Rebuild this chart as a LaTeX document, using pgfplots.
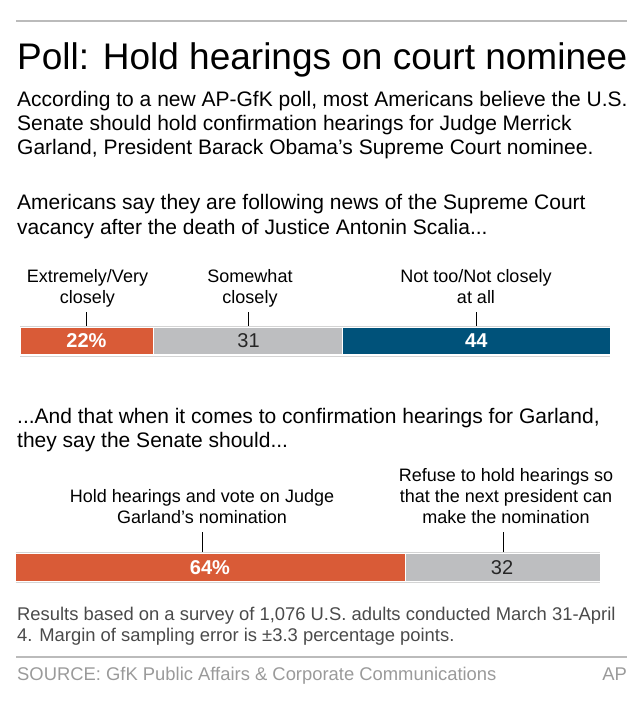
\documentclass[border=0pt]{standalone}
\usepackage{pgfplots}
\pgfplotsset{compat=1.18}
\usepackage{fontspec}
\setmainfont{Liberation Sans}

\definecolor{apOrange}{HTML}{D95B37}
\definecolor{apGray}{HTML}{BDBEC0}
\definecolor{apBlue}{HTML}{00527A}
\definecolor{ruleGray}{HTML}{BBBBBB}
\definecolor{edgeGray}{HTML}{D4D4D4}
\definecolor{noteGray}{HTML}{4A4A4A}
\definecolor{srcGray}{HTML}{9A9A9A}

\newcommand{\titlefont}{\fontsize{37bp}{40bp}\selectfont}
\newcommand{\bodyfont}{\fontsize{21bp}{24bp}\selectfont}
\newcommand{\labfont}{\fontsize{18bp}{21bp}\selectfont}
\newcommand{\valfont}{\fontsize{20bp}{22bp}\selectfont}
\newcommand{\notefont}{\fontsize{18.4bp}{21bp}\selectfont}

\begin{document}
\begin{tikzpicture}
\begin{scope}[x=1bp, y=-1bp]
  \useasboundingbox (0,0) rectangle (640,725);
  \draw[ruleGray, line width=1.5bp] (16,21) -- (627,21);
  \node[anchor=base west, inner sep=0] at (17,70) {\titlefont Poll: Hold hearings on court nominee};
  \node[anchor=base west, inner sep=0] at (17,106.7) {\bodyfont According to a new AP-GfK poll, most Americans believe the U.S.};
  \node[anchor=base west, inner sep=0] at (17,130.7) {\bodyfont Senate should hold confirmation hearings for Judge Merrick};
  \node[anchor=base west, inner sep=0] at (17,154.3) {\bodyfont Garland, President Barack Obama’s Supreme Court nominee.};
  \node[anchor=base west, inner sep=0] at (17,209.3) {\bodyfont Americans say they are following news of the Supreme Court};
  \node[anchor=base west, inner sep=0] at (17,234) {\bodyfont vacancy after the death of Justice Antonin Scalia...};

  % labels above first bar
  \node[anchor=base, inner sep=0] at (87.5,282.7) {\labfont Extremely/Very};
  \node[anchor=base, inner sep=0] at (87.5,303.3) {\labfont closely};
  \node[anchor=base, inner sep=0] at (250,282.7) {\labfont Somewhat};
  \node[anchor=base, inner sep=0] at (250,303.3) {\labfont closely};
  \node[anchor=base, inner sep=0] at (476,282.7) {\labfont Not too/Not closely};
  \node[anchor=base, inner sep=0] at (476,303.3) {\labfont at all};

  \node[anchor=base west, inner sep=0] at (17,423) {\bodyfont ...And that when it comes to confirmation hearings for Garland,};
  \node[anchor=base west, inner sep=0] at (17,447.5) {\bodyfont they say the Senate should...};

  % labels above second bar
  \node[anchor=base, inner sep=0] at (202,502.3) {\labfont Hold hearings and vote on Judge};
  \node[anchor=base, inner sep=0] at (202,523.3) {\labfont Garland’s nomination};
  \node[anchor=base, inner sep=0] at (506,481.3) {\labfont Refuse to hold hearings so};
  \node[anchor=base, inner sep=0] at (506,502.3) {\labfont that the next president can};
  \node[anchor=base, inner sep=0] at (506,523.3) {\labfont make the nomination};

  \node[anchor=base west, inner sep=0, text=noteGray] at (17,620) {\notefont Results based on a survey of 1,076 U.S. adults conducted March 31-April};
  \node[anchor=base west, inner sep=0, text=noteGray] at (17,641) {\notefont 4. Margin of sampling error is ±3.3 percentage points.};
  \draw[ruleGray, line width=1.5bp] (16,657) -- (627,657);
  \node[anchor=base west, inner sep=0, text=srcGray] at (17,680) {\notefont SOURCE: GfK Public Affairs \& Corporate Communications};
  \node[anchor=base east, inner sep=0, text=srcGray] at (627,680) {\notefont AP};
\end{scope}

% first bar: how closely following the news
\begin{axis}[
  at={(20bp,-356bp)}, anchor=south west,
  width=590.3bp, height=30bp, scale only axis,
  xmin=0, xmax=97, ymin=-0.5, ymax=0.5,
  hide axis, clip=false,
  xbar stacked, bar width=26.3bp,
  every axis plot/.append style={draw=white, line width=0.8bp},
]
\addplot[fill=apOrange] coordinates {(22,0)};
\addplot[fill=apGray] coordinates {(31,0)};
\addplot[fill=apBlue] coordinates {(44,0)};
\draw[edgeGray, line width=1bp] (axis cs:0,0.5) -- (axis cs:97,0.5);
\draw[edgeGray, line width=1bp] (axis cs:0,-0.5) -- (axis cs:97,-0.5);
\end{axis}

% second bar: what the Senate should do
\begin{axis}[
  at={(15.7bp,-582.7bp)}, anchor=south west,
  width=584.3bp, height=30.7bp, scale only axis,
  xmin=0, xmax=96, ymin=-0.5, ymax=0.5,
  hide axis, clip=false,
  xbar stacked, bar width=27.7bp,
  every axis plot/.append style={draw=white, line width=0.8bp},
]
\addplot[fill=apOrange] coordinates {(64,0)};
\addplot[fill=apGray] coordinates {(32,0)};
\draw[edgeGray, line width=1bp] (axis cs:0,0.5) -- (axis cs:96,0.5);
\draw[edgeGray, line width=1bp] (axis cs:0,-0.5) -- (axis cs:96,-0.5);
\end{axis}

% leaders and values on top of the bars
\begin{scope}[x=1bp, y=-1bp]
  \draw[black, line width=0.8bp] (86.5,312) -- (86.5,326);
  \draw[black, line width=0.8bp] (248.5,312) -- (248.5,326);
  \draw[black, line width=0.8bp] (476.3,312) -- (476.3,326);
  \node[anchor=base, inner sep=0, text=white] at (86.5,347.8) {\valfont\bfseries 22\%};
  \node[anchor=base, inner sep=0, text=black!85] at (248.5,347.8) {\valfont 31};
  \node[anchor=base, inner sep=0, text=white] at (476.3,347.8) {\valfont\bfseries 44};

  \draw[black, line width=0.8bp] (202.7,532) -- (202.7,552);
  \draw[black, line width=0.8bp] (503.5,532) -- (503.5,552);
  \node[anchor=base, inner sep=0, text=white] at (210,574.8) {\valfont\bfseries 64\%};
  \node[anchor=base, inner sep=0, text=black!85] at (502,574.8) {\valfont 32};
\end{scope}
\end{tikzpicture}
\end{document}
